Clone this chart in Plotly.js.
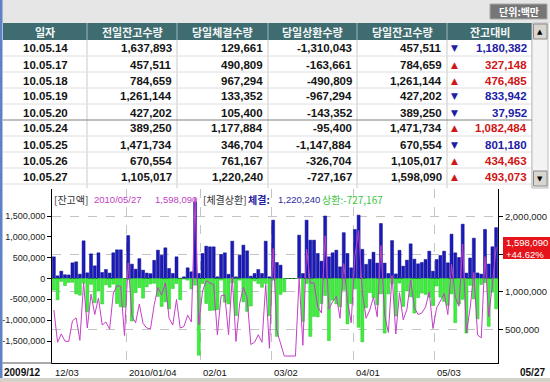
<!DOCTYPE html>
<html><head><meta charset="utf-8">
<script src="https://cdn.plot.ly/plotly-3.0.1.min.js"></script>
<style>html,body{margin:0;padding:0;background:#fff;overflow:hidden}</style>
</head><body><div id="chart" style="width:550px;height:382px"></div>
<script>
// ---------------- table data ----------------
const tblHeaders = ["일자","전일잔고수량","당일체결수량","당일상환수량","당일잔고수량","잔고대비"];
const tblDates = ["10.05.14","10.05.17","10.05.18","10.05.19","10.05.20","10.05.24","10.05.25","10.05.26","10.05.27"];
const tblPrevBal = [1637893,457511,784659,1261144,427202,389250,1471734,670554,1105017];
const tblExec = [129661,490809,967294,133352,105400,1177884,346704,761167,1220240];
const tblRepay = [-1310043,-163661,-490809,-967294,-143352,-95400,-1147884,-326704,-727167];
const tblCurBal = [457511,784659,1261144,427202,389250,1471734,670554,1105017,1598090];
const tblDiff = [1180382,327148,476485,833942,37952,1082484,801180,434463,493073];
const tblDir = ["down","up","up","down","down","up","down","up","up"];
const unitLabel = "단위:백만";

// ---------------- chart data (trading days 2009/12 .. 2010/05/27) ----------------
const execBars = [
520000,64000,176000,90000,85000,376000,400000,104000,904000,136000,
592000,304000,616000,144000,216000,130000,616000,688000,688000,0,
1030000,344000,224000,476000,200000,130000,116000,436000,680000,560000,
736000,240000,120000,520000,8000,40000,256000,160000,1840000,120000,
600000,776000,760000,760000,40000,576000,616000,100000,896000,40000,
560000,800000,664000,56000,120000,216000,120000,896000,40000,1400000,
384000,320000,0,0,0,0,1040000,120000,1400000,920000,
920000,600000,416000,1500000,520000,616000,680000,280000,1100000,600000,
256000,1176000,1520000,700000,340000,460000,630000,370000,1320000,370000,
120000,910000,110000,676000,296000,440000,832000,464000,352000,384000,
456000,656000,176000,456000,552000,656000,376000,1064000,616000,504000,
1304000,129661,490809,967294,133352,105400,1177884,346704,761167,1220240];
const repayBars = [
-280000,-510000,-70000,-170000,-95000,-90000,-370000,-400000,-110000,-800000,
-140000,-580000,-300000,-610000,-150000,-210000,-135000,-600000,-680000,-690000,
-30000,-1020000,-340000,-220000,-470000,-200000,-130000,-115000,-430000,-670000,
-560000,-730000,-240000,-120000,-510000,-15000,-40000,-250000,-160000,-1840000,
-120000,-600000,-770000,-760000,-750000,-40000,-570000,-610000,-100000,-890000,
-40000,-560000,-790000,-660000,-60000,-120000,-210000,-120000,-890000,-40000,
-1390000,-380000,-320000,0,0,0,0,-1030000,-120000,-1390000,
-910000,-920000,-600000,-410000,-1490000,-520000,-610000,-680000,-280000,-1090000,
-600000,-250000,-1170000,-1520000,-700000,-340000,-460000,-630000,-370000,-1310000,
-370000,-120000,-900000,-110000,-670000,-300000,-440000,-830000,-460000,-350000,
-380000,-450000,-650000,-180000,-450000,-550000,-650000,-370000,-1060000,-610000,
-500000,-1310043,-163661,-490809,-967294,-143352,-95400,-1147884,-326704,-727167];
const balanceLine = [
760000,330000,440000,345000,340000,615000,655000,355000,1120000,520000,
970000,700000,920000,560000,600000,505000,985000,1085000,1075000,420000,
1390000,680000,590000,840000,580000,520000,510000,830000,1060000,960000,
1120000,650000,560000,900000,520000,540000,690000,600000,2250000,560000,
1010000,1150000,1120000,1100000,430000,950000,960000,430000,1200000,340000,
850000,1060000,920000,300000,330000,430000,330000,1100000,250000,1580000,
480000,300000,146000,146000,146000,146000,1190000,290000,1570000,1120000,
1120000,800000,720000,1750000,770000,870000,940000,650000,1380000,880000,
590000,1480000,1820000,1000000,650000,760000,930000,670000,1620000,690000,
460000,1220000,440000,990000,630000,770000,1160000,790000,700000,720000,
800000,1000000,513000,790000,880000,980000,700000,1370000,930000,810000,
1637893,457511,784659,1261144,427202,389250,1471734,670554,1105017,1598090];
const monthTickIdx = [0,20,40,59,81,103];
const monthTickLabels = ["12/03","2010/01/04","02/01","03/02","04/01","05/03"];
const leftTicks = [-1500000,-1000000,-500000,0,500000,1000000,1500000];
const rightTicks = [500000,1000000,1500000,2000000];
const rightTickShown = [true,true,false,true];   // 1,500,000 sits behind the value box
const lastDate = "2010/05/27";
const startLabel = "2009/12";
const endLabel = "05/27";

// ---------------- layout helpers ----------------
const W = 550, H = 382;
const px = x => x / W, py = y => 1 - y / H;
const fmt = v => v.toLocaleString('en-US');
const N = execBars.length;
const xIdx = execBars.map((_, i) => i);
const colEdges = [3, 87, 177, 268, 357, 447, 532];
const headTop = 23, headBot = 40, rowH = 16;
const FNUM = "Liberation Sans, Noto Sans CJK KR";
const FKR = "Noto Sans CJK KR, Liberation Sans";
const BLUE_T = '#1c1ca4', RED_T = '#d01515';

const shapes = [];
const anns = [];
function rect(x0, y0, x1, y1, fill, line, lw) {
  shapes.push({type:'rect', xref:'paper', yref:'paper', x0:px(x0), x1:px(x1), y0:py(y1), y1:py(y0),
    fillcolor:fill, line:{color:line||fill, width: lw===undefined?0:lw}, layer:'above'});
}
function hline(x0, x1, y, color, w, dash) {
  shapes.push({type:'line', xref:'paper', yref:'paper', x0:px(x0), x1:px(x1), y0:py(y), y1:py(y),
    line:{color, width:w||1, dash:dash||'solid'}, layer:'above'});
}
function vline(x, y0, y1, color, w) {
  shapes.push({type:'line', xref:'paper', yref:'paper', x0:px(x), x1:px(x), y0:py(y0), y1:py(y1),
    line:{color, width:w||1}, layer:'above'});
}
function txt(x, y, text, o) {
  anns.push(Object.assign({xref:'paper', yref:'paper', x:px(x), y:py(y), text, showarrow:false,
    xanchor:'center', yanchor:'middle', borderpad:0,
    font:{family:FNUM, size:11, color:'#111'}}, o || {}));
}

// top strip and frame
rect(0, 0, 550, 23, '#e6e6e6');
rect(490, 4, 547, 19, '#767676', '#a8a8a8', 1);
txt(518.5, 11.5, unitLabel, {font:{family:FKR, size:10, color:'#ffffff', weight:'bold'}});
// header
rect(colEdges[0], headTop, colEdges[6], headBot, '#3f6c70');
for (let c = 1; c < 6; c++) vline(colEdges[c], headTop, headBot, '#9db8b8', 1);
tblHeaders.forEach((h, c) => {
  txt((colEdges[c] + colEdges[c+1]) / 2, (headTop + headBot) / 2 + 0.5, '<b>' + h + '</b>',
      {font:{family:FKR, size:11, color:'#f2f6f6'}});
});
// body grid
const bodyBot = 188;
for (let c = 1; c < 7; c++) vline(colEdges[c], headBot, bodyBot, '#c9c9c9', 1);
for (let r = 1; r <= tblDates.length; r++) {
  const y = headBot + r * rowH;
  hline(colEdges[0], colEdges[6], y, r === 5 ? '#808080' : '#dedede', 1);
}
// body text
tblDates.forEach((d, r) => {
  const yc = headBot + r * rowH + rowH / 2 + 0.5;
  const bold = {family:FNUM, size:11.5, color:'#141414', weight:'bold'};
  txt((colEdges[0] + colEdges[1]) / 2, yc, d, {font:bold});
  const cols = [tblPrevBal[r], tblExec[r], tblRepay[r], tblCurBal[r]];
  cols.forEach((v, k) => txt(colEdges[k+2] - 4, yc, fmt(v), {xanchor:'right', font:bold}));
  const up = tblDir[r] === 'up';
  const col = up ? RED_T : BLUE_T;
  txt(454, yc, up ? '▲' : '▼', {font:{family:'DejaVu Sans', size:9, color:col}});
  txt(colEdges[6] - 4, yc, fmt(tblDiff[r]), {xanchor:'right', font:{family:FNUM, size:11.5, color:col, weight:'bold'}});
});
// scrollbar
rect(532, 23, 548, bodyBot, '#f3f3f3', '#bcbcbc', 1);
rect(533.5, 24, 547, 39, '#d9d6d0', '#8a8a8a', 1);
rect(533.5, 171, 547, 186, '#d9d6d0', '#8a8a8a', 1);
txt(540.2, 31.5, '▲', {font:{family:'DejaVu Sans', size:7, color:'#000'}});
txt(540.2, 178.5, '▼', {font:{family:'DejaVu Sans', size:7, color:'#000'}});
// left blue frame & bottom strip
rect(0, 0, 2.5, 378, '#5d82c6');
rect(0, 378, 550, 382, '#d5d2cc');
hline(2.5, 52, 363, '#555', 1);

// chart legend text (top of plot)
const lastI = N - 1;
const legY = 199.5;
txt(53, legY, '[잔고액]', {xanchor:'left', font:{family:FKR, size:10, color:'#333'}});
txt(93, legY, lastDate, {xanchor:'left', font:{family:FNUM, size:9.5, color:'#c13fc4'}});
txt(154, legY, fmt(balanceLine[lastI]), {xanchor:'left', font:{family:FNUM, size:9.5, color:'#c13fc4'}});
txt(202, legY, '[체결상환]', {xanchor:'left', font:{family:FKR, size:10, color:'#333'}});
txt(247, legY, '<b>체결:</b>', {xanchor:'left', font:{family:FKR, size:10, color:'#1c1ca0'}});
txt(277, legY, fmt(execBars[lastI]), {xanchor:'left', font:{family:FNUM, size:9.5, color:'#2a2a9a'}});
txt(321, legY, '상환:' + fmt(repayBars[lastI]), {xanchor:'left', font:{family:FKR, size:10, color:'#3dc43d'}});

// right-side current value box
const pct = (balanceLine[lastI] - balanceLine[lastI-1]) / balanceLine[lastI-1] * 100;
rect(503, 237, 550, 259, '#e5141b');
txt(504.5, 248.5, fmt(balanceLine[lastI]) + '<br>+' + pct.toFixed(2) + '%',
    {xanchor:'left', align:'left', font:{family:FNUM, size:9.5, color:'#ffffff'}});

// x labels (left-aligned at month gridlines) via the x axis scale
monthTickIdx.forEach((ix, k) => {
  anns.push({xref:'x', yref:'paper', x:ix - 0.5, y:py(372), xanchor:'left', yanchor:'middle',
    xshift:1.5, text:monthTickLabels[k], showarrow:false, borderpad:0,
    font:{family:FNUM, size:9.5, color:'#111'}});
});
txt(3, 372, '<b>' + startLabel + '</b>', {xanchor:'left', font:{family:FNUM, size:10, color:'#111'}});
txt(546, 372, '<b>' + endLabel + '</b>', {xanchor:'right', font:{family:FNUM, size:10, color:'#111'}});

// dashed zero line of left axis
shapes.push({type:'line', xref:'x', yref:'y', x0:-0.5, x1:N - 0.5, y0:0, y1:0,
  line:{color:'#000', width:1, dash:'dash'}, layer:'below'});

const traces = [
  {type:'bar', x:xIdx, y:execBars, marker:{color:'#1b1bbb', line:{color:'#0c0c88', width:0.5}}, hoverinfo:'skip'},
  {type:'bar', x:xIdx, y:repayBars, marker:{color:'#3cf03c', line:{color:'#2cc22c', width:0.5}}, hoverinfo:'skip'},
  {type:'scatter', mode:'lines', x:xIdx, y:balanceLine, yaxis:'y2', line:{color:'#c53fc8', width:1}, hoverinfo:'skip'}
];

const layout = {
  width:W, height:H, margin:{l:0, r:0, t:0, b:0}, paper_bgcolor:'#ffffff', plot_bgcolor:'#ffffff',
  showlegend:false, barmode:'overlay', bargap:0.2,
  font:{family:FNUM, size:10, color:'#222'},
  xaxis:{domain:[px(52), px(498)], range:[-0.5, N - 0.5], showline:true, linecolor:'#000', linewidth:1,
    tickvals:monthTickIdx.slice(1).map(v => v - 0.5), showticklabels:false, ticks:'',
    showgrid:true, gridcolor:'#c4c4c4', griddash:'dash', gridwidth:1, zeroline:false, fixedrange:true},
  yaxis:{domain:[py(363), py(189)], range:[-2028000, 2148000], tickvals:leftTicks, ticktext:leftTicks.map(fmt),
    ticks:'outside', ticklen:4, tickcolor:'#000', showline:true, linecolor:'#000', linewidth:1,
    showgrid:false, zeroline:false, tickfont:{family:FNUM, size:9, color:'#222'}, fixedrange:true},
  yaxis2:{overlaying:'y', side:'right', anchor:'x', range:[53400, 2373000], tickvals:rightTicks,
    ticktext:rightTicks.map((v, k) => rightTickShown[k] ? fmt(v) : ''),
    ticks:'outside', ticklen:4, tickcolor:'#000', showline:true, linecolor:'#000', linewidth:1,
    showgrid:true, gridcolor:'#c4c4c4', griddash:'dash', zeroline:false,
    tickfont:{family:FNUM, size:9.5, color:'#222'}, fixedrange:true},
  shapes, annotations:anns
};
Plotly.newPlot('chart', traces, layout, {displayModeBar:false, staticPlot:true});
</script></body></html>
